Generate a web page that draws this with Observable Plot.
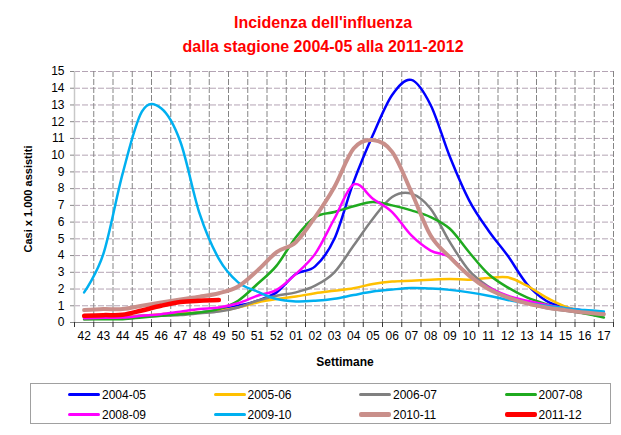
<!DOCTYPE html>
<html><head><meta charset="utf-8">
<script src="https://cdn.jsdelivr.net/npm/d3@7"></script>
<script src="https://cdn.jsdelivr.net/npm/@observablehq/plot@0.6"></script>
<style>
body{margin:0;background:#fff;font-family:"Liberation Sans",Arial,sans-serif;}
#page{position:relative;width:621px;height:435px;overflow:hidden;background:#fff;}
#title{position:absolute;left:0;top:11px;width:646px;text-align:center;color:#ff0000;font-weight:bold;font-size:16px;line-height:24px;}
#chart{position:absolute;left:0;top:60px;}
#ylabel{position:absolute;left:28px;top:199px;transform:translate(-50%,-50%) rotate(-90deg);font-weight:bold;font-size:11px;white-space:nowrap;}
#xlabel{position:absolute;left:345px;top:362px;transform:translate(-50%,-50%);font-weight:bold;font-size:12px;white-space:nowrap;}
#legend{position:absolute;left:30px;top:383px;width:579px;height:39px;border:1px solid #a0a0a0;}
.item{position:absolute;font-size:12px;line-height:14px;white-space:nowrap;}
.swatch{position:absolute;width:32px;border-radius:2px;}
</style></head><body><div id="page">
<div id="title">Incidenza dell'influenza<br>dalla stagione 2004-05 alla 2011-2012</div>
<div id="chart"></div>
<div id="ylabel">Casi x 1.000 assistiti</div>
<div id="xlabel">Settimane</div>
<div id="legend"></div>
</div>
<script>
const weeks = ["42","43","44","45","46","47","48","49","50","51","52","01","02","03","04","05","06","07","08","09","10","11","12","13","14","15","16","17"];
const yTicks = [0,1,2,3,4,5,6,7,8,9,10,11,12,13,14,15];
const seasons = ["2004-05","2005-06","2006-07","2007-08","2008-09","2009-10","2010-11","2011-12"];
const s2004_05 = [0.3,0.3,0.35,0.4,0.45,0.5,0.6,0.75,1.0,1.3,1.8,2.9,3.35,5.0,8.4,11.2,13.6,14.5,13.0,9.9,7.3,5.5,4.0,2.3,1.3,0.9,0.7,0.5];
const s2005_06 = [0.25,0.3,0.35,0.4,0.5,0.55,0.6,0.7,0.9,1.2,1.4,1.55,1.75,1.9,2.05,2.3,2.45,2.5,2.56,2.6,2.56,2.66,2.7,2.2,1.5,0.95,0.66,0.54];
const s2006_07 = [0.2,0.25,0.3,0.35,0.4,0.45,0.55,0.65,0.9,1.3,1.6,1.8,2.2,3.0,4.6,6.2,7.5,7.7,6.8,4.8,3.1,2.15,1.55,1.15,0.86,0.7,0.55,0.45];
const s2007_08 = [0.2,0.2,0.2,0.3,0.4,0.5,0.6,0.8,1.3,2.3,3.4,5.1,6.3,6.6,6.95,7.2,7.0,6.7,6.3,5.6,4.2,2.9,2.1,1.5,1.1,0.8,0.54,0.3];
const s2008_09 = [0.26,0.28,0.3,0.4,0.5,0.65,0.8,0.9,1.15,1.6,1.95,2.9,4.1,6.2,8.25,7.4,6.6,5.2,4.3,3.9,2.8,2.1,1.6,1.3,1.06,0.85,0.7,0.55];
const s2009_10 = [1.8,4.1,8.9,12.6,12.8,10.8,6.5,3.8,2.4,1.85,1.4,1.26,1.3,1.42,1.64,1.85,1.97,2.06,2.03,1.95,1.8,1.6,1.35,1.15,1.0,0.86,0.74,0.66];
const s2010_11 = [0.74,0.8,0.8,1.0,1.2,1.38,1.54,1.75,2.15,3.1,4.2,4.8,6.3,8.1,10.4,10.9,10.2,7.8,5.2,3.9,2.8,2.0,1.5,1.14,0.9,0.74,0.6,0.5];
const s2011_12 = [0.4,0.44,0.46,0.72,1.0,1.22,1.3,1.34];
const colors = ["#0000ff","#ffc000","#808080","#1faa1f","#ff00ff","#00b0f0","#c98f8a","#ff0000"];
const widths = [2.5,2.5,2.5,2.5,2.5,2.5,4,4.5];
const seriesValues = [s2004_05,s2005_06,s2006_07,s2007_08,s2008_09,s2009_10,s2010_11,s2011_12];

const idx = d3.range(weeks.length);
const bounds = d3.range(-0.5, weeks.length, 1);
const inner = bounds.slice(1);

const lineMarks = seriesValues.map((vals, k) =>
  Plot.line(vals.map((v, i) => ({i, v})), {x: "i", y: "v", stroke: colors[k], strokeWidth: widths[k], curve: "cardinal", strokeLinejoin: "round", strokeLinecap: "round"})
);

const chart = Plot.plot({
  width: 621, height: 315,
  marginLeft: 74, marginRight: 8, marginTop: 11, marginBottom: 53,
  x: {type: "linear", domain: [-0.5, weeks.length - 0.5]},
  y: {domain: [0, 15]},
  style: {fontFamily: "Liberation Sans, Arial, sans-serif", fontSize: "12px", background: "transparent", overflow: "visible", color: "#000"},
  marks: [
    Plot.ruleY(yTicks.slice(1), {stroke: "#b4a4b4", strokeDasharray: "6,2"}),
    Plot.ruleX(inner, {stroke: "#858585", strokeDasharray: "6,2"}),
    Plot.ruleX([-0.5], {stroke: "#c8c8c8", strokeWidth: 1.5}),
    Plot.ruleY([0], {stroke: "#808080"}),
    Plot.ruleX(bounds, {x: d => d, y1: 0, y2: -0.3, stroke: "#333"}),
    Plot.axisY({ticks: yTicks, tickSize: 4, tickPadding: 6, stroke: "#888", fontSize: 12, tickFormat: d => String(d), label: null}),
    Plot.axisX({ticks: idx, tickSize: 0, tickPadding: 9, fontSize: 12, tickFormat: i => weeks[i], label: null}),
    ...lineMarks
  ]
});
document.getElementById("chart").appendChild(chart);

const legend = document.getElementById("legend");
seasons.forEach((s, k) => {
  const col = k % 4, row = Math.floor(k / 4);
  const sw = document.createElement("div");
  sw.className = "swatch";
  const h = k >= 6 ? 5 : 3.5;
  sw.style.left = (37 + 145.5 * col) + "px";
  sw.style.top = (10.5 + 20 * row - h / 2) + "px";
  sw.style.height = h + "px";
  sw.style.background = colors[k];
  legend.appendChild(sw);
  const t = document.createElement("div");
  t.className = "item";
  t.textContent = s;
  t.style.left = (71 + 145.5 * col) + "px";
  t.style.top = (3.5 + 20 * row) + "px";
  legend.appendChild(t);
});
</script>
</body></html>
